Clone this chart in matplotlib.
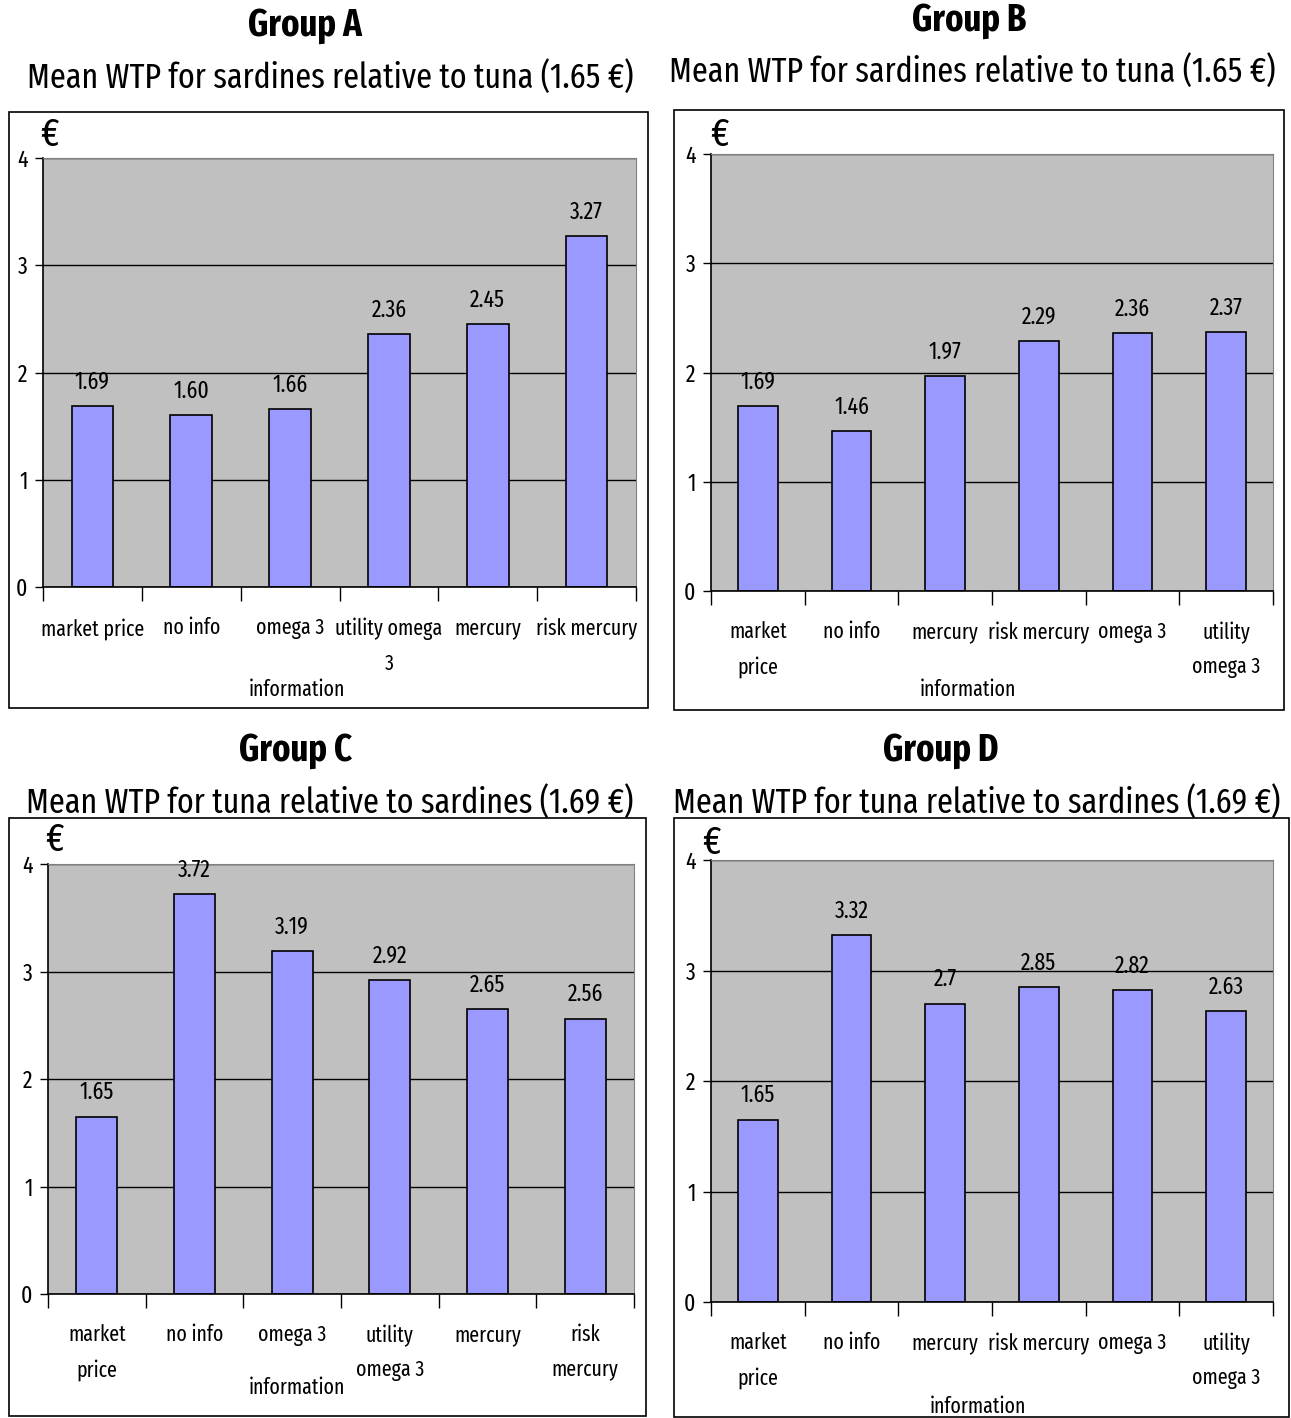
import matplotlib.pyplot as plt
from matplotlib.patches import Rectangle

plt.rcParams['font.family'] = ['Arial Narrow', 'Liberation Sans Narrow',
                               'Fira Sans Extra Condensed', 'Roboto Condensed',
                               'DejaVu Sans']

# Data
cats_a = ['market price', 'no info', 'omega 3', 'utility omega\n3', 'mercury', 'risk mercury']
vals_a = [1.69, 1.60, 1.66, 2.36, 2.45, 3.27]

cats_b = ['market\nprice', 'no info', 'mercury', 'risk mercury', 'omega 3', 'utility\nomega 3']
vals_b = [1.69, 1.46, 1.97, 2.29, 2.36, 2.37]

cats_c = ['market\nprice', 'no info', 'omega 3', 'utility\nomega 3', 'mercury', 'risk\nmercury']
vals_c = [1.65, 3.72, 3.19, 2.92, 2.65, 2.56]

cats_d = ['market\nprice', 'no info', 'mercury', 'risk mercury', 'omega 3', 'utility\nomega 3']
vals_d = [1.65, 3.32, 2.70, 2.85, 2.82, 2.63]

titles = ['Group A', 'Group B', 'Group C', 'Group D']
subtitles = ['Mean WTP for sardines relative to tuna (1.65 €)',
             'Mean WTP for sardines relative to tuna (1.65 €)',
             'Mean WTP for tuna relative to sardines (1.69 €)',
             'Mean WTP for tuna relative to sardines (1.69 €)']

W, H = 1291, 1418
fig = plt.figure(figsize=(W / 100, H / 100), dpi=100)


def fx(x):
    return x / W


def fy(y):
    return 1 - y / H


def panel(cats, vals, fmt, axbox, frame, title_xy, sub_xy, euro_xy, lab_xy):
    # outer frame (pixels: x0, y0, x1, y1)
    x0, y0, x1, y1 = frame
    fig.add_artist(Rectangle((fx(x0), fy(y1)), fx(x1 - x0), (y1 - y0) / H,
                             transform=fig.transFigure, fill=False,
                             lw=1.2, ec='black'))
    fig.text(fx(title_xy[0]), fy(title_xy[1]), titles[panel.i], fontsize=27,
             fontweight='bold', ha='center', va='center')
    fig.text(fx(sub_xy[0]), fy(sub_xy[1]), subtitles[panel.i], fontsize=25,
             ha='center', va='center')
    fig.text(fx(euro_xy[0]), fy(euro_xy[1]), '€', fontsize=28,
             ha='center', va='center')

    l, t, r, b = axbox
    ax = fig.add_axes([fx(l), fy(b), fx(r - l), (b - t) / H])
    ax.set_facecolor('#C0C0C0')
    ax.set_axisbelow(True)
    x = range(len(cats))
    ax.bar(x, vals, width=0.42, color='#9999FF', edgecolor='black', lw=1.2)
    for xi, v in zip(x, vals):
        ax.annotate(format(v, fmt), (xi, v), xytext=(0, 9),
                    textcoords='offset points', ha='center', va='bottom',
                    fontsize=17)
    ax.set_xlim(-0.5, len(cats) - 0.5)
    ax.set_ylim(0, 4)
    ax.set_yticks([0, 1, 2, 3, 4])
    ax.yaxis.grid(True, color='black', lw=1)
    ax.set_xticks(list(x))
    ax.set_xticklabels(cats, fontsize=15.5, linespacing=1.75)
    ax.set_xticks([i - 0.5 for i in range(len(cats) + 1)], minor=True)
    ax.tick_params(axis='x', which='major', length=0, pad=22)
    ax.tick_params(axis='x', which='minor', length=10, width=1, direction='out')
    ax.tick_params(axis='y', length=6, width=1, direction='out', labelsize=17, pad=5)
    for s in ['top', 'right']:
        ax.spines[s].set_color('#808080')
    for s in ['left', 'bottom']:
        ax.spines[s].set_color('black')
        ax.spines[s].set_linewidth(1.2)
    ax.set_xlabel('information', fontsize=15.5, va='center')
    ax.xaxis.set_label_coords(*lab_xy)
    panel.i += 1


panel.i = 0
panel(cats_a, vals_a, '.2f', (43, 158, 636, 587), (9, 112, 648, 708),
      (305, 25), (330, 78), (50, 135), (0.428, -0.240))
panel(cats_b, vals_b, '.2f', (711, 154, 1273, 591), (674, 110, 1284, 710),
      (969, 20), (972, 72), (720, 135), (0.457, -0.227))
panel(cats_c, vals_c, '.2f', (48, 864, 634, 1294), (9, 818, 646, 1416),
      (296, 750), (330, 803), (55, 840), (0.425, -0.219))
panel(cats_d, vals_d, 'g', (711, 860, 1273, 1302), (674, 818, 1289, 1417),
      (941, 750), (977, 803), (712, 843), (0.475, -0.238))

fig.savefig('out.png', dpi=100)
